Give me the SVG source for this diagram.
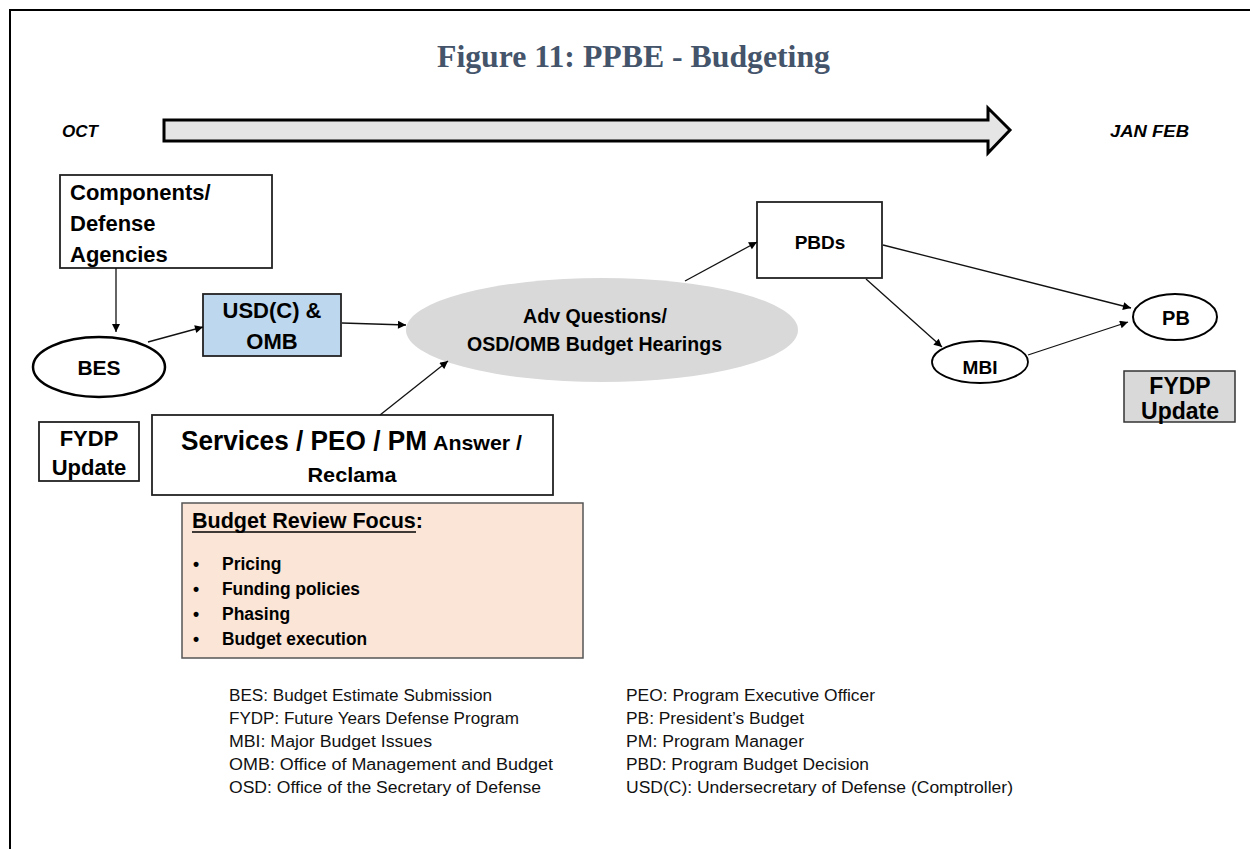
<svg xmlns="http://www.w3.org/2000/svg" width="1250" height="849" viewBox="0 0 1250 849">
<defs>
<style>
.t{font-family:"Liberation Sans",Arial,sans-serif;font-weight:bold;fill:#000}
.c{text-anchor:middle}
.lg{font-family:"Liberation Sans",Arial,sans-serif;font-size:16px;fill:#111}
.box{fill:#fff;stroke:#222;stroke-width:1.8}
.conn line{stroke:#111;stroke-width:1.3;marker-end:url(#ah)}
</style>
<marker id="ah" viewBox="0 0 10 10" refX="10" refY="5" markerWidth="9" markerHeight="8" markerUnits="userSpaceOnUse" orient="auto">
<path d="M0,0 L10,5 L0,10 z" fill="#000"/>
</marker>
</defs>
<rect width="1250" height="849" fill="#fff"/>
<path d="M10,849 V10 H1250" fill="none" stroke="#000" stroke-width="2"/>
<text x="437" y="67" font-family="'Liberation Serif','Times New Roman',serif" font-weight="bold" font-size="32" fill="#44546a" textLength="393" lengthAdjust="spacingAndGlyphs">Figure 11: PPBE - Budgeting</text>
<g id="timeline">
<polygon points="164,120 988,120 988,108 1010,130 988,153 988,141 164,141" fill="#e5e5e5" stroke="#000" stroke-width="3"/>
<text class="t" x="62" y="137" font-size="16" font-style="italic" textLength="36" lengthAdjust="spacingAndGlyphs">OCT</text>
<text class="t" x="1110" y="137" font-size="16" font-style="italic" textLength="79" lengthAdjust="spacingAndGlyphs">JAN  FEB</text>
</g>
<g id="components">
<rect class="box" x="60" y="175" width="212" height="93" stroke-width="1.5"/>
<text class="t" x="70" y="200" font-size="22">Components/</text>
<text class="t" x="70" y="231" font-size="22">Defense</text>
<text class="t" x="70" y="262" font-size="22">Agencies</text>
</g>
<g id="bes">
<ellipse cx="99" cy="367" rx="66" ry="30" fill="#fff" stroke="#000" stroke-width="2.5"/>
<text class="t c" x="99" y="375" font-size="21">BES</text>
</g>
<g id="usdc">
<rect x="203" y="294" width="138" height="62" fill="#bdd7ee" stroke="#222" stroke-width="1.8"/>
<text class="t c" x="272" y="318" font-size="22">USD(C) &amp;</text>
<text class="t c" x="272" y="349" font-size="22">OMB</text>
</g>
<g id="fydp-left">
<rect class="box" x="39" y="422" width="100" height="59" stroke-width="1.5"/>
<text class="t c" x="89" y="446" font-size="22">FYDP</text>
<text class="t c" x="89" y="475" font-size="22">Update</text>
</g>
<g id="services">
<rect class="box" x="152" y="415" width="401" height="80" stroke-width="2"/>
<text class="t" x="181" y="450" font-size="27" textLength="246" lengthAdjust="spacingAndGlyphs">Services / PEO / PM</text>
<text class="t" x="433" y="450" font-size="21" textLength="89" lengthAdjust="spacingAndGlyphs">Answer /</text>
<text class="t c" x="352" y="482" font-size="21" textLength="89" lengthAdjust="spacingAndGlyphs">Reclama</text>
</g>
<g id="hearings">
<ellipse cx="602" cy="330" rx="196" ry="52" fill="#d9d9d9"/>
<text class="t" x="523" y="323" font-size="21" textLength="144" lengthAdjust="spacingAndGlyphs">Adv Questions/</text>
<text class="t" x="467" y="351" font-size="21" textLength="255" lengthAdjust="spacingAndGlyphs">OSD/OMB Budget Hearings</text>
</g>
<g id="pbds">
<rect class="box" x="757" y="202" width="125" height="76" stroke-width="2"/>
<text class="t c" x="820" y="249" font-size="19">PBDs</text>
</g>
<g id="mbi">
<ellipse cx="980" cy="362" rx="48" ry="21" fill="#fff" stroke="#000" stroke-width="1.8"/>
<text class="t c" x="980" y="374" font-size="19">MBI</text>
</g>
<g id="pb">
<ellipse cx="1175" cy="317" rx="42" ry="23" fill="#fff" stroke="#000" stroke-width="2"/>
<text class="t c" x="1176" y="325" font-size="20">PB</text>
</g>
<g id="fydp-right">
<rect x="1124" y="371" width="111" height="51" fill="#d9d9d9" stroke="#333" stroke-width="1.5"/>
<text class="t c" x="1180" y="394" font-size="23">FYDP</text>
<text class="t c" x="1180" y="419" font-size="23">Update</text>
</g>
<g id="focus">
<rect x="182" y="503" width="401" height="155" fill="#fbe5d6" stroke="#555" stroke-width="1.5"/>
<text class="t" x="192" y="528" font-size="21.5" textLength="231" lengthAdjust="spacingAndGlyphs">Budget Review Focus:</text>
<line x1="192" y1="532" x2="416" y2="532" stroke="#000" stroke-width="1.6"/>
<g class="t" font-size="17.5">
<text x="193" y="570">•</text><text x="222" y="570">Pricing</text>
<text x="193" y="595">•</text><text x="222" y="595" textLength="138" lengthAdjust="spacingAndGlyphs">Funding policies</text>
<text x="193" y="620">•</text><text x="222" y="620">Phasing</text>
<text x="193" y="645">•</text><text x="222" y="645" textLength="145" lengthAdjust="spacingAndGlyphs">Budget execution</text>
</g>
</g>
<g id="connectors" class="conn">
<line x1="116" y1="268" x2="116" y2="332"/>
<line x1="148" y1="342" x2="203" y2="327"/>
<line x1="342" y1="323" x2="406" y2="325"/>
<line x1="380" y1="415" x2="448" y2="361"/>
<line x1="685" y1="281" x2="757" y2="242"/>
<line x1="883" y1="245" x2="1131" y2="308"/>
<line x1="866" y1="279" x2="942" y2="347"/>
<line x1="1028" y1="355" x2="1128" y2="322"/>
</g>
<g id="legend">
<text class="lg" x="229" y="701" textLength="263" lengthAdjust="spacingAndGlyphs">BES: Budget Estimate Submission</text>
<text class="lg" x="229" y="724" textLength="290" lengthAdjust="spacingAndGlyphs">FYDP: Future Years Defense Program</text>
<text class="lg" x="229" y="747" textLength="203" lengthAdjust="spacingAndGlyphs">MBI: Major Budget Issues</text>
<text class="lg" x="229" y="770" textLength="324" lengthAdjust="spacingAndGlyphs">OMB: Office of Management and Budget</text>
<text class="lg" x="229" y="793" textLength="312" lengthAdjust="spacingAndGlyphs">OSD: Office of the Secretary of Defense</text>
<text class="lg" x="626" y="701" textLength="249" lengthAdjust="spacingAndGlyphs">PEO: Program Executive Officer</text>
<text class="lg" x="626" y="724" textLength="178" lengthAdjust="spacingAndGlyphs">PB: President’s Budget</text>
<text class="lg" x="626" y="747" textLength="178" lengthAdjust="spacingAndGlyphs">PM: Program Manager</text>
<text class="lg" x="626" y="770" textLength="243" lengthAdjust="spacingAndGlyphs">PBD: Program Budget Decision</text>
<text class="lg" x="626" y="793" textLength="387" lengthAdjust="spacingAndGlyphs">USD(C): Undersecretary of Defense (Comptroller)</text>
</g>
</svg>
